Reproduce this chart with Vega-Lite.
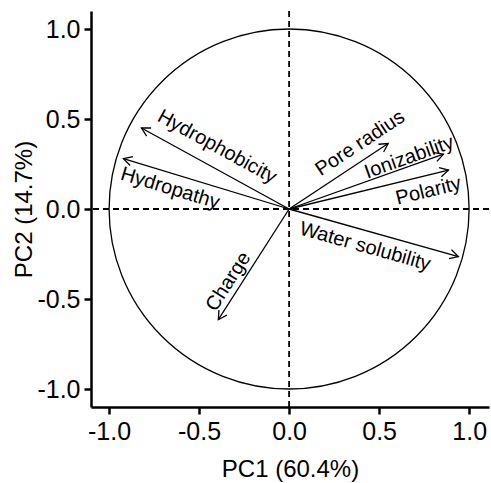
{
  "$schema": "https://vega.github.io/schema/vega-lite/v6.json",
  "width": 398,
  "height": 396,
  "autosize": "none",
  "padding": {"left": 91, "top": 11, "right": 2, "bottom": 76},
  "background": "white",
  "config": {
    "view": {"stroke": null},
    "font": "Liberation Sans",
    "axis": {
      "grid": false,
      "domainColor": "black",
      "domainWidth": 2.5,
      "tickColor": "black",
      "tickWidth": 2.5,
      "tickSize": 7,
      "labelFont": "Liberation Sans",
      "labelFontSize": 25,
      "labelColor": "black",
      "titleFont": "Liberation Sans",
      "titleFontSize": 24,
      "titleFontWeight": "normal",
      "titleColor": "black"
    }
  },
  "datasets": {
    "vars": [
      {"var": "Hydrophobicity", "x": -0.82, "y": 0.45, "lx": -0.40, "ly": 0.346},
      {"var": "Hydropathy", "x": -0.92, "y": 0.28, "lx": -0.661, "ly": 0.115},
      {"var": "Pore radius", "x": 0.55, "y": 0.364, "lx": 0.394, "ly": 0.365},
      {"var": "Ionizability", "x": 0.857, "y": 0.305, "lx": 0.667, "ly": 0.287},
      {"var": "Polarity", "x": 0.885, "y": 0.216, "lx": 0.774, "ly": 0.10},
      {"var": "Water solubility", "x": 0.94, "y": -0.264, "lx": 0.422, "ly": -0.209},
      {"var": "Charge", "x": -0.393, "y": -0.615, "lx": -0.337, "ly": -0.403}
    ],
    "origin": [{"c": 0}]
  },
  "layer": [
    {
      "data": {"name": "origin"},
      "mark": {"type": "point", "shape": "circle", "filled": false, "stroke": "black", "strokeWidth": 1.3, "opacity": 1, "size": 129600, "clip": false},
      "encoding": {
        "x": {"field": "c", "type": "quantitative", "scale": {"domain": [-1.1, 1.11], "nice": false, "zero": false}, "title": "PC1 (60.4%)",
              "axis": {"values": [-1, -0.5, 0, 0.5, 1], "labelExpr": "datum.value < 0 ? '-' + format(-datum.value, '.1f') : format(datum.value, '.1f')", "labelFontSize": 25, "labelPadding": 5, "titlePadding": 13}},
        "y": {"field": "c", "type": "quantitative", "scale": {"domain": [-1.1, 1.1], "nice": false, "zero": false}, "title": "PC2 (14.7%)",
              "axis": {"values": [-1, -0.5, 0, 0.5, 1], "labelExpr": "datum.value < 0 ? '-' + format(-datum.value, '.1f') : format(datum.value, '.1f')", "labelFontSize": 25, "labelPadding": 4, "titlePadding": 0}}
      }
    },
    {
      "data": {"name": "origin"},
      "mark": {"type": "rule", "strokeDash": [6, 4], "strokeWidth": 1.8, "color": "black"},
      "encoding": {
        "x": {"field": "c", "type": "quantitative", "title": "PC1 (60.4%)"}
      }
    },
    {
      "data": {"name": "origin"},
      "mark": {"type": "rule", "strokeDash": [6, 4], "strokeWidth": 1.8, "color": "black"},
      "encoding": {
        "y": {"field": "c", "type": "quantitative", "title": "PC2 (14.7%)"}
      }
    },
    {
      "data": {"name": "vars"},
      "mark": {"type": "rule", "strokeWidth": 1.3, "color": "black"},
      "encoding": {
        "x": {"field": "x", "type": "quantitative", "title": "PC1 (60.4%)"},
        "y": {"field": "y", "type": "quantitative", "title": "PC2 (14.7%)"},
        "x2": {"datum": 0},
        "y2": {"datum": 0}
      }
    },
    {
      "data": {"name": "vars"},
      "transform": [
        {"calculate": "-atan2(datum.y, datum.x) * 180 / PI", "as": "ang"}
      ],
      "mark": {"type": "point", "shape": "M -1 -0.55 L 0 0 L -1 0.55", "filled": false, "stroke": "black", "strokeWidth": 1.3, "opacity": 1, "size": 289},
      "encoding": {
        "x": {"field": "x", "type": "quantitative", "title": "PC1 (60.4%)"},
        "y": {"field": "y", "type": "quantitative", "title": "PC2 (14.7%)"},
        "angle": {"field": "ang", "type": "quantitative", "scale": null}
      }
    },
    {
      "data": {"name": "vars"},
      "transform": [
        {"calculate": "-atan2(datum.y, datum.x) * 180 / PI", "as": "ang"},
        {"calculate": "datum.ang < -90 ? datum.ang + 180 : (datum.ang > 90 ? datum.ang - 180 : datum.ang)", "as": "tang"}
      ],
      "mark": {"type": "text", "fontSize": 20, "font": "Liberation Sans", "align": "center", "baseline": "middle", "color": "black"},
      "encoding": {
        "x": {"field": "lx", "type": "quantitative", "title": "PC1 (60.4%)"},
        "y": {"field": "ly", "type": "quantitative", "title": "PC2 (14.7%)"},
        "text": {"field": "var", "type": "nominal"},
        "angle": {"field": "tang", "type": "quantitative", "scale": null}
      }
    }
  ]
}
